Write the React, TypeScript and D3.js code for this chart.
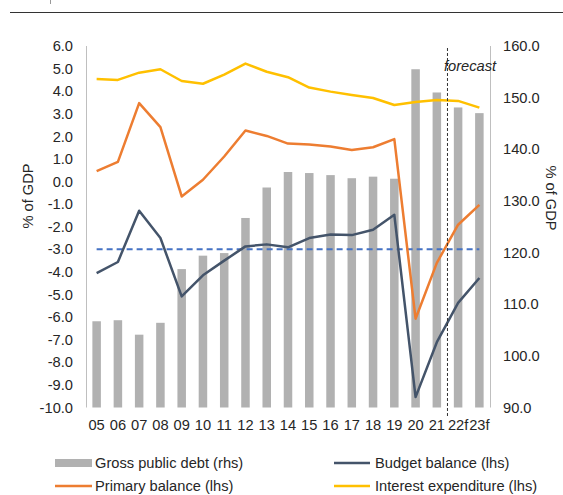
import React from "react";
import * as d3 from "d3";

const years = ["05","06","07","08","09","10","11","12","13","14","15","16","17","18","19","20","21","22f","23f"];
const grossDebt = [106.7,106.9,104.1,106.4,116.8,119.4,119.9,126.7,132.6,135.6,135.4,135.0,134.4,134.7,134.3,155.5,151.0,148.1,147.0];
const budgetBalance = [-4.05,-3.56,-1.29,-2.5,-5.08,-4.15,-3.5,-2.87,-2.78,-2.91,-2.5,-2.34,-2.37,-2.13,-1.47,-9.54,-7.11,-5.37,-4.27];
const primaryBalance = [0.46,0.87,3.47,2.41,-0.66,0.08,1.11,2.26,2.02,1.68,1.64,1.55,1.40,1.52,1.88,-6.07,-3.6,-1.91,-1.03];
const interestExp = [4.54,4.50,4.82,4.97,4.45,4.33,4.73,5.22,4.86,4.62,4.16,3.98,3.83,3.70,3.39,3.52,3.61,3.57,3.27];
const leftTicks = [6,5,4,3,2,1,0,-1,-2,-3,-4,-5,-6,-7,-8,-9,-10];
const rightTicks = [160,150,140,130,120,110,100,90];
const threshold = -3;
const forecastAfter = "21";

export default function App() {
  const W = 563, H = 495;
  const x0 = 86, x1 = 490, yTop = 46, yBot = 407.5;
  const x = d3.scaleBand<string>().domain(years).range([x0, x1]).paddingInner(0).paddingOuter(0);
  const yL = d3.scaleLinear().domain([-10, 6]).range([yBot, yTop]);
  const yR = d3.scaleLinear().domain([90, 160]).range([yBot, yTop]);
  const cx = (d: string) => (x(d) as number) + x.bandwidth() / 2;
  const barW = x.bandwidth() * 0.4;
  const line = (vals: number[]) =>
    d3.line<number>().x((_, i) => cx(years[i])).y((v) => yL(v))(vals) as string;
  const font = "Liberation Sans, Arial, sans-serif";
  const fs = 14.67;
  const textCol = "#262626";
  const fi = years.indexOf(forecastAfter);
  const forecastX = (x(years[fi]) as number) + x.bandwidth();

  return (
    <svg width={W} height={H} style={{ position: "absolute", left: 0, top: 0 }} fontFamily={font}>
      <rect width={W} height={H} fill="#fff" />
      <line x1={10} x2={W} y1={12.5} y2={12.5} stroke="#333" strokeWidth={1} />
      <line x1={50.5} x2={50.5} y1={0} y2={4} stroke="#999" strokeWidth={1} />
      {/* bars */}
      {years.map((d, i) => (
        <rect key={d} x={cx(d) - barW / 2} y={yR(grossDebt[i])} width={barW}
          height={yR(90) - yR(grossDebt[i])} fill="#B1B1B1" />
      ))}
      {/* axes */}
      <line x1={x0 + 0.5} x2={x0 + 0.5} y1={yTop} y2={yBot} stroke="#BFBFBF" />
      <line x1={x1 + 0.5} x2={x1 + 0.5} y1={yTop} y2={yBot} stroke="#BFBFBF" />
      {leftTicks.map((t) => (
        <text key={t} x={73} y={yL(t)} dy="0.35em" textAnchor="end" fontSize={fs} fill={textCol}>
          {t.toFixed(1)}
        </text>
      ))}
      {rightTicks.map((t) => (
        <text key={t} x={503} y={yR(t)} dy="0.35em" textAnchor="start" fontSize={fs} fill={textCol}>
          {t.toFixed(1)}
        </text>
      ))}
      {years.map((d) => (
        <text key={d} x={cx(d)} y={425} dy="0.35em" textAnchor="middle" fontSize={fs} fill={textCol}>
          {d}
        </text>
      ))}
      <text transform={`translate(28,196) rotate(-90)`} textAnchor="middle" dy="0.35em" fontSize={fs} fill={textCol}>% of GDP</text>
      <text transform={`translate(551,198) rotate(90)`} textAnchor="middle" dy="0.35em" fontSize={fs} fill={textCol}>% of GDP</text>
      {/* threshold */}
      <line x1={cx(years[0])} x2={cx(years[years.length - 1])} y1={yL(threshold)} y2={yL(threshold)}
        stroke="#4472C4" strokeWidth={2} strokeDasharray="6,4" />
      {/* lines */}
      <path d={line(interestExp)} fill="none" stroke="#FFC000" strokeWidth={2.5} strokeLinejoin="round" />
      <path d={line(primaryBalance)} fill="none" stroke="#ED7D31" strokeWidth={2.5} strokeLinejoin="round" />
      <path d={line(budgetBalance)} fill="none" stroke="#44546A" strokeWidth={2.5} strokeLinejoin="round" />
      {/* forecast */}
      <line x1={forecastX} x2={forecastX} y1={48} y2={418} stroke="#333" strokeWidth={1} strokeDasharray="3,2" />
      <text x={444} y={66} dy="0.35em" fontSize={fs} fontStyle="italic" fill={textCol}>forecast</text>
      {/* legend */}
      <rect x={55} y={459} width={37} height={8} fill="#B1B1B1" />
      <text x={95} y={463} dy="0.35em" fontSize={fs} fill={textCol}>Gross public debt (rhs)</text>
      <line x1={55} x2={92} y1={486} y2={486} stroke="#ED7D31" strokeWidth={2.5} />
      <text x={95} y={486} dy="0.35em" fontSize={fs} fill={textCol}>Primary balance (lhs)</text>
      <line x1={334} x2={370} y1={463} y2={463} stroke="#44546A" strokeWidth={2.5} />
      <text x={375} y={463} dy="0.35em" fontSize={fs} fill={textCol}>Budget balance (lhs)</text>
      <line x1={334} x2={370} y1={486} y2={486} stroke="#FFC000" strokeWidth={2.5} />
      <text x={375} y={486} dy="0.35em" fontSize={fs} fill={textCol}>Interest expenditure (lhs)</text>
    </svg>
  );
}
